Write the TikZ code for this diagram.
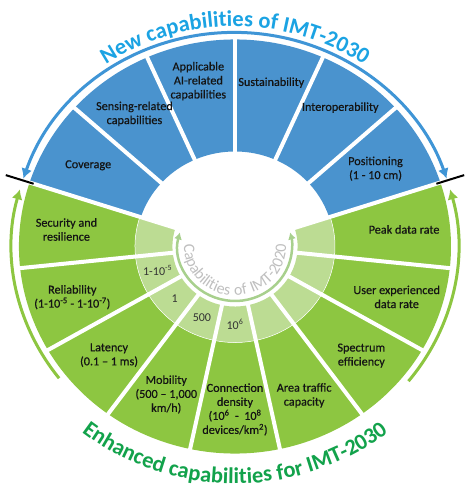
\documentclass[tikz,border=0pt]{standalone}
\usepackage{fontspec}
\setmainfont{Carlito}
\newfontfamily\capfont[FakeBold=0.5, Ligatures=TeX]{Carlito}
\usetikzlibrary{arrows.meta,decorations.text}

\definecolor{capblue}{HTML}{4A93CE}
\definecolor{ringblue}{HTML}{3F95D6}
\definecolor{titleblue}{HTML}{1BA3E3}
\definecolor{capgreen}{HTML}{8DC641}
\definecolor{oldgreen}{HTML}{BCDC93}
\definecolor{titlegreen}{HTML}{12A24B}
\definecolor{oldgray}{HTML}{BFBFBF}
\definecolor{oldarrow}{HTML}{A8D08D}

\newcommand{\titlefont}{\fontsize{22.5}{26}\selectfont\bfseries}
\newcommand{\oldfont}{\fontsize{16}{19}\selectfont\addfontfeatures{LetterSpace=8}}

\tikzset{
	captext/.style={align=center, font=\capfont\fontsize{12.2}{14}\selectfont, text=black!92, inner sep=0pt},
	celltext/.style={font=\fontsize{12}{14}\selectfont, text=black!80, inner sep=0pt},
	gap/.style={white, line width=4pt},
	ring/.style={line width=3pt, {Latex[length=10pt,width=11pt]}-{Latex[length=10pt,width=11pt]}},
	tick/.style={black, line width=2pt}
}

\begin{document}
\begin{tikzpicture}[x=1pt, y=1pt]
	\useasboundingbox (-235,-241.5) rectangle (231,246.5);
	
	\fill[capblue] (18:216 and 207) arc[start angle=18, end angle=162, x radius=216, y radius=207]
		-- (162:99 and 95) arc[start angle=162, end angle=18, x radius=99, y radius=95] -- cycle;
	\fill[capgreen] (162:216 and 207) arc[start angle=162, end angle=378, x radius=216, y radius=207]
		-- (378:100 and 96) arc[start angle=378, end angle=162, x radius=100, y radius=96] -- cycle;
	\fill[oldgreen] (162:100 and 96) arc[start angle=162, end angle=378, x radius=100, y radius=96]
		-- (378:62.6 and 60) arc[start angle=378, end angle=162, x radius=62.6, y radius=60] -- cycle;
	\draw[white, line width=0.5pt] (162:100 and 96) arc[start angle=162, end angle=378, x radius=100, y radius=96];
	
	\foreach \a in {42,66,...,138}
	{
		\draw[gap] (\a:97 and 93) -- (\a:218 and 209);
	}
	\foreach \a in {18,162,186,...,354}
	{
		\draw[gap] (\a:60 and 57.5) -- (\a:218 and 209);
	}
	
	\foreach \a in {18,162}
	{
		\draw[tick] (\a:211.7 and 203) -- (\a:241 and 231);
	}
	
	\draw[ringblue, ring] (161.5:223.2 and 214) arc[start angle=161.5, end angle=18.5, x radius=223.2, y radius=214];
	\draw[capgreen, line width=3pt, -{Latex[length=10pt,width=11pt]}] (218:223.2 and 214) arc[start angle=218, end angle=164.5, x radius=223.2, y radius=214];
	\draw[capgreen, line width=3pt, -{Latex[length=10pt,width=11pt]}] (321:223.2 and 214) arc[start angle=321, end angle=375.5, x radius=223.2, y radius=214];
	\draw[oldarrow, line width=2.5pt, {Latex[length=7pt,width=8pt]}-{Latex[length=7pt,width=8pt]}] (165:57 and 54.5) arc[start angle=165, end angle=375, x radius=57, y radius=54.5];
	
	\path[decorate, decoration={text along path, text align=center, text color=titleblue, text={|\titlefont|New capabilities of IMT-2030}}]
		(150:229.5 and 220) arc[start angle=150, end angle=30, x radius=229.5, y radius=220];
	\path[decorate, decoration={text along path, text align=center, text color=titlegreen, text={|\titlefont|Enhanced capabilities for IMT-2030}}]
		(210:247 and 237) arc[start angle=210, end angle=330, x radius=247, y radius=237];
	\path[decorate, decoration={text along path, text align=center, text color=oldgray, text={|\oldfont|Capabilities of IMT-2020}}]
		(155:51 and 49) arc[start angle=155, end angle=385, x radius=51, y radius=49];
	
	\foreach \a/\r/\nm/\txt in {150/162.5/cov/Coverage, 126/164/sens/{Sensing-related\\capabilities}, 102/169/ai/{Applicable\\AI-related\\capabilities}, 78/167.5/sust/Sustainability, 54/171.7/inter/Interoperability, 30/155.6/pos/{Positioning\\(1 - 10 cm)}, 174/162.5/sec/{Security and\\resilience}, 198/164/rel/{Reliability\\(1-10\textsuperscript{-5} - 1-10\textsuperscript{-7})}, 222/162.5/lat/{Latency\\(0.1 – 1 ms)}, 246/162/mob/{Mobility\\(500 – 1,000\\km/h)}, 270/163/con/{Connection\\density\\(10\textsuperscript{6} \ - \ 10\textsuperscript{8}\\devices/km\textsuperscript{2})}, 294/163/area/{Area traffic\\capacity}, 318/163/spec/{Spectrum\\efficiency}, 342/163/user/{User experienced\\data rate}, 6/163/peak/{Peak data rate}}
	{
		\node[captext] (\nm) at ({\r*1.043*cos(\a)}, {\r*sin(\a)}) {\txt};
	}
	
	\foreach \a/\nm/\txt in {198/cell1/{1-10\textsuperscript{-5}}, 222/cell2/1, 246/cell3/500, 270/cell4/{10\textsuperscript{6}}}
	{
		\node[celltext] (\nm) at ({78*1.043*cos(\a)}, {78*sin(\a)}) {\txt};
	}

\end{tikzpicture}
\end{document}
